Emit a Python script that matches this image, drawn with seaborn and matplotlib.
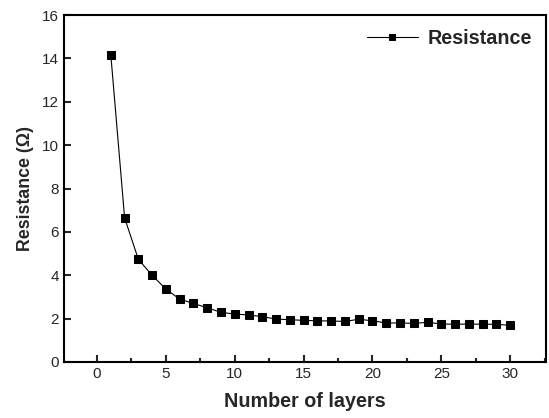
import matplotlib
matplotlib.use("Agg")
import matplotlib.pyplot as plt
import seaborn as sns
import pandas as pd
from matplotlib.ticker import MultipleLocator

layers = list(range(1, 31))
resistance = [14.15, 6.65, 4.73, 4.0, 3.36, 2.9, 2.7, 2.5, 2.29, 2.21,
              2.17, 2.09, 1.98, 1.95, 1.92, 1.9, 1.89, 1.87, 1.97, 1.9,
              1.8, 1.8, 1.78, 1.83, 1.75, 1.74, 1.75, 1.74, 1.74, 1.69]

df = pd.DataFrame({"Number of layers": layers, "Resistance": resistance})

sns.set_style("white")
plt.rcParams['font.family'] = ['Liberation Sans', 'DejaVu Sans']

fig = plt.figure(figsize=(5.49, 4.18), dpi=100)
ax = fig.add_axes([0.1166, 0.134, 0.8779, 0.83])

sns.lineplot(data=df, x="Number of layers", y="Resistance", ax=ax,
             color="black", linewidth=0.8, marker="s", markersize=6,
             markeredgecolor="black", label="Resistance")

ax.set_xlim(-2.4, 32.6)
ax.set_ylim(0, 16)
ax.xaxis.set_major_locator(MultipleLocator(5))
ax.xaxis.set_minor_locator(MultipleLocator(2.5))
ax.yaxis.set_major_locator(MultipleLocator(2))
ax.tick_params(axis="both", which="major", direction="in", length=5, width=1.5,
               labelsize=11, top=False, right=False, bottom=True, left=True)
ax.tick_params(axis="x", which="minor", direction="in", length=3, width=1.5, bottom=True)
for s in ax.spines.values():
    s.set_linewidth(1.5)
    s.set_color("black")

ax.set_xlabel("Number of layers", fontsize=14.2, fontweight="bold", labelpad=8)
ax.set_ylabel("Resistance (Ω)", fontsize=12.8, fontweight="bold", labelpad=6)

leg = ax.legend(loc="upper right", frameon=False, prop={"weight": "bold", "size": 14.2},
                handlelength=2.6, markerscale=0.75, borderaxespad=0.3, handletextpad=0.5)

fig.savefig("out.png", dpi=100)
